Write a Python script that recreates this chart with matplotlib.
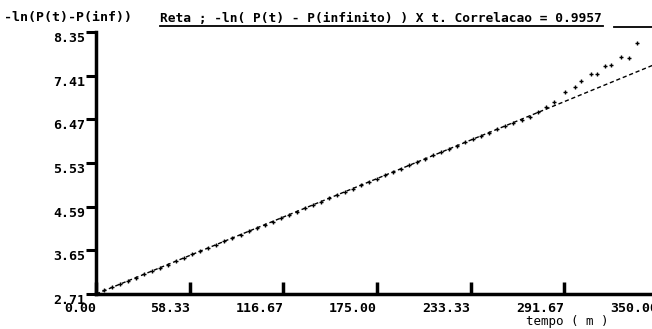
import numpy as np
import matplotlib.pyplot as plt
from matplotlib.lines import Line2D

# tempo (min) e -ln(P(t)-P(inf))
tempo = [0, 5, 10, 15, 20, 25, 30, 35, 40, 45, 50, 55, 60, 65, 70, 75, 80, 85,
         90, 95, 100, 105, 110, 115, 120, 125, 130, 135, 140, 145, 150, 155,
         160, 165, 170, 175, 180, 185, 190, 195, 200, 205, 210, 215, 220, 225,
         230, 235, 240, 245, 250, 255, 260, 265, 270, 275, 280, 285,
         292, 298, 302, 308, 312, 317, 321, 327, 332, 337]
lnp = [2.71, 2.79, 2.86, 2.93, 3.00, 3.06, 3.14, 3.21, 3.28, 3.34, 3.42, 3.49,
       3.57, 3.63, 3.70, 3.77, 3.85, 3.92, 3.98, 4.06, 4.13, 4.19, 4.27, 4.35,
       4.41, 4.48, 4.56, 4.62, 4.70, 4.78, 4.84, 4.90, 4.98, 5.06, 5.12, 5.19,
       5.27, 5.33, 5.41, 5.49, 5.55, 5.62, 5.70, 5.76, 5.83, 5.90, 5.98, 6.05,
       6.12, 6.18, 6.26, 6.33, 6.40, 6.46, 6.53, 6.63, 6.73, 6.85,
       7.06, 7.16, 7.29, 7.44, 7.44, 7.61, 7.64, 7.81, 7.79, 8.11]

# reta ajustada
reta_t = [0, 350]
reta_y = [2.71, 7.68]

xticks = [0, 58.33, 116.67, 175.00, 233.33, 291.67, 350.00]
yticks = [2.71, 3.65, 4.59, 5.53, 6.47, 7.41, 8.35]

titulo_y = '-ln(P(t)-P(inf))'
titulo = 'Reta ; -ln( P(t) - P(infinito) ) X t. Correlacao = 0.9957'
xlabel = 'tempo ( m )'

fnt = 'DejaVu Sans Mono'

fig = plt.figure(figsize=(6.52, 3.29), dpi=100)
W, H = 652., 329.
ax = fig.add_axes([96 / W, (H - 294) / H, (658 - 96) / W, (294 - 32) / H])

ax.plot(reta_t, reta_y, color='black', lw=1.0, ls=(0, (3, 2)))
ax.plot(tempo, lnp, ls='none', marker='+', ms=3.5, mew=1.0, color='black')

ax.set_xlim(0, 350)
ax.set_ylim(2.71, 8.35)
ax.spines['top'].set_visible(False)
ax.spines['right'].set_visible(False)
ax.spines['left'].set_linewidth(2.5)
ax.spines['bottom'].set_linewidth(2.5)

ax.set_xticks(xticks)
ax.set_xticklabels(['%.2f' % v for v in xticks], ha='right',
                   fontfamily=fnt, fontweight='bold', fontsize=9.5)
ax.set_yticks(yticks)
ax.set_yticklabels(['%.2f' % v for v in yticks], va='top',
                   fontfamily=fnt, fontweight='bold', fontsize=9.5)
ax.tick_params(axis='x', direction='in', length=9, width=2.5, pad=6)
ax.tick_params(axis='y', direction='out', length=7, width=2.2, pad=1)

ax.text(567 / W, 1 - 315 / H, xlabel, transform=fig.transFigure,
        ha='center', va='top', fontfamily=fnt, fontsize=9)

# titulos no topo
fig.text(4 / W, 1 - 18 / H, titulo_y, ha='left', va='center',
         fontfamily=fnt, fontweight='bold', fontsize=9.5)
fig.text(160 / W, 1 - 18 / H, titulo, ha='left', va='center',
         fontfamily=fnt, fontweight='bold', fontsize=9.3)
fig.add_artist(Line2D([160 / W, 603 / W], [1 - 26 / H] * 2, color='black', lw=1.3))
fig.add_artist(Line2D([614 / W, 1.0], [1 - 27 / H] * 2, color='black', lw=1.3))

plt.savefig('out.png', dpi=100)
